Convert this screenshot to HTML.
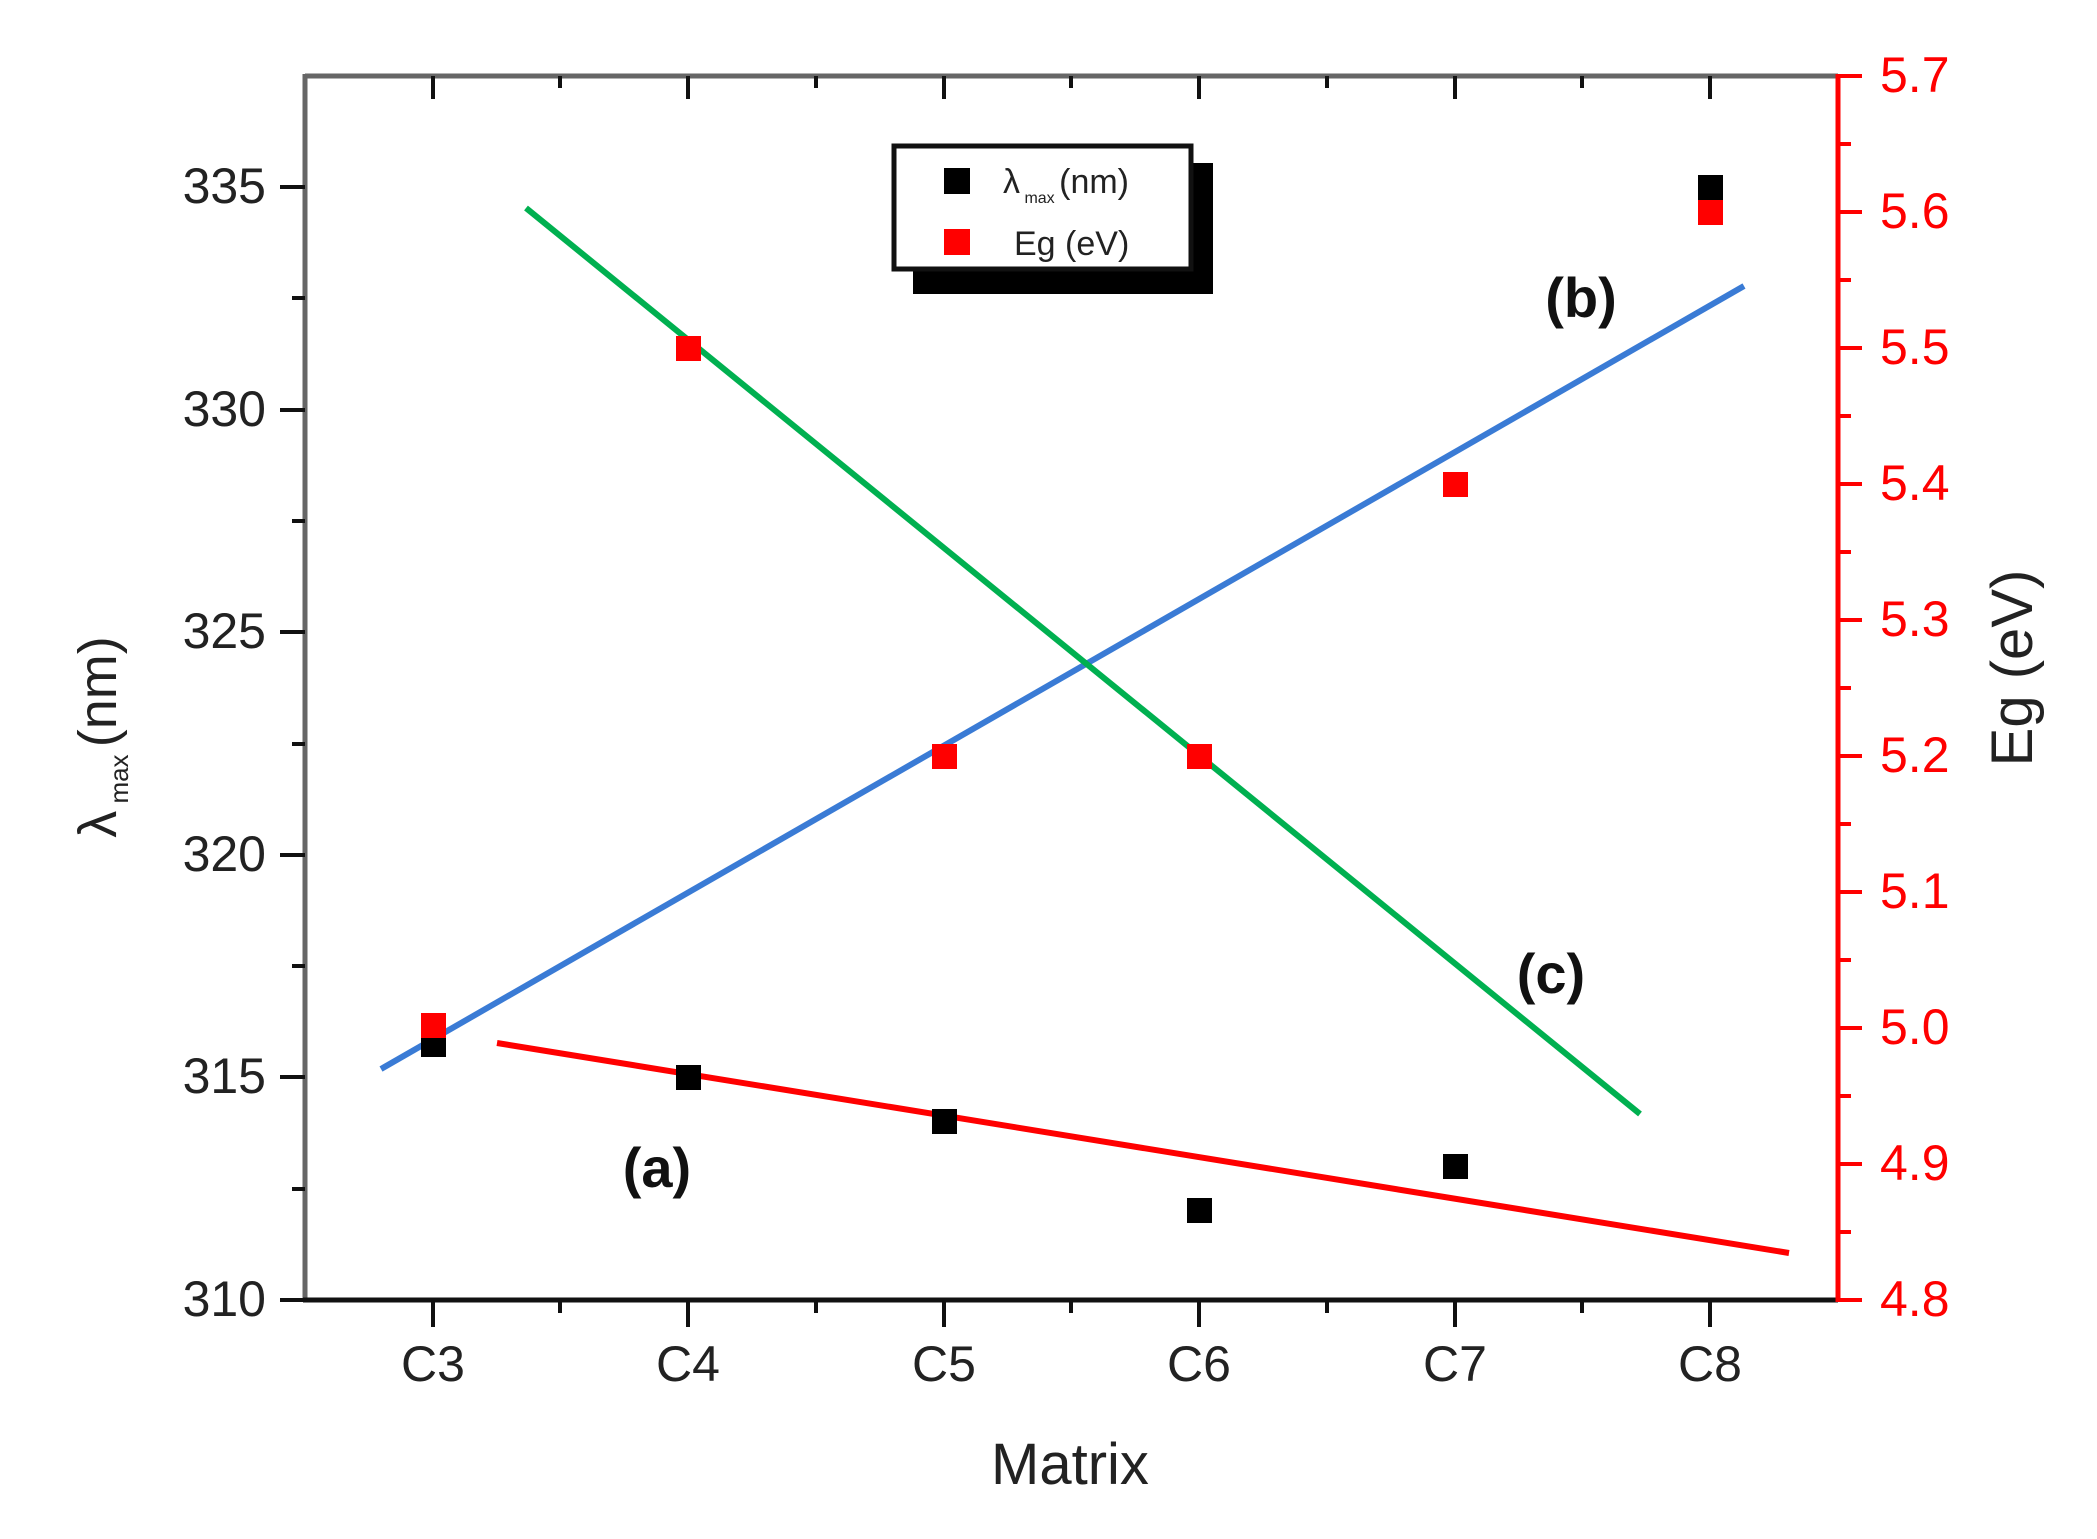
<!DOCTYPE html>
<html><head><meta charset="utf-8"><style>
html,body{margin:0;padding:0;background:#fff;}
svg{display:block;}
text{font-family:"Liberation Sans",sans-serif;}
</style></head><body>
<svg width="2097" height="1539" viewBox="0 0 2097 1539" xmlns="http://www.w3.org/2000/svg">
<!-- axes -->
<line x1="305" y1="76" x2="1838" y2="76" stroke="#666" stroke-width="5"/>
<line x1="305" y1="74" x2="305" y2="1302" stroke="#666" stroke-width="5"/>
<line x1="303" y1="1300" x2="1838" y2="1300" stroke="#111" stroke-width="5"/>
<line x1="1838" y1="74" x2="1838" y2="1302" stroke="#f00" stroke-width="5"/>
<g stroke="#111" stroke-width="4">
<line x1="433" y1="1300" x2="433" y2="1327"/><line x1="688" y1="1300" x2="688" y2="1327"/><line x1="944" y1="1300" x2="944" y2="1327"/><line x1="1199" y1="1300" x2="1199" y2="1327"/><line x1="1455" y1="1300" x2="1455" y2="1327"/><line x1="1710" y1="1300" x2="1710" y2="1327"/>
<line x1="560" y1="1300" x2="560" y2="1313"/><line x1="816" y1="1300" x2="816" y2="1313"/><line x1="1071" y1="1300" x2="1071" y2="1313"/><line x1="1327" y1="1300" x2="1327" y2="1313"/><line x1="1582" y1="1300" x2="1582" y2="1313"/>
<line x1="433" y1="76" x2="433" y2="99"/><line x1="688" y1="76" x2="688" y2="99"/><line x1="944" y1="76" x2="944" y2="99"/><line x1="1199" y1="76" x2="1199" y2="99"/><line x1="1455" y1="76" x2="1455" y2="99"/><line x1="1710" y1="76" x2="1710" y2="99"/>
<line x1="560" y1="76" x2="560" y2="88"/><line x1="816" y1="76" x2="816" y2="88"/><line x1="1071" y1="76" x2="1071" y2="88"/><line x1="1327" y1="76" x2="1327" y2="88"/><line x1="1582" y1="76" x2="1582" y2="88"/>
<line x1="280" y1="1300" x2="305" y2="1300"/><line x1="280" y1="1077" x2="305" y2="1077"/><line x1="280" y1="855" x2="305" y2="855"/><line x1="280" y1="632" x2="305" y2="632"/><line x1="280" y1="410" x2="305" y2="410"/><line x1="280" y1="187" x2="305" y2="187"/>
<line x1="292" y1="1189" x2="305" y2="1189"/><line x1="292" y1="966" x2="305" y2="966"/><line x1="292" y1="744" x2="305" y2="744"/><line x1="292" y1="521" x2="305" y2="521"/><line x1="292" y1="298" x2="305" y2="298"/>
</g>
<g stroke="#f00" stroke-width="4">
<line x1="1838" y1="76" x2="1862" y2="76"/><line x1="1838" y1="212" x2="1862" y2="212"/><line x1="1838" y1="348" x2="1862" y2="348"/><line x1="1838" y1="484" x2="1862" y2="484"/><line x1="1838" y1="620" x2="1862" y2="620"/><line x1="1838" y1="756" x2="1862" y2="756"/><line x1="1838" y1="892" x2="1862" y2="892"/><line x1="1838" y1="1028" x2="1862" y2="1028"/><line x1="1838" y1="1164" x2="1862" y2="1164"/><line x1="1838" y1="1300" x2="1862" y2="1300"/>
<line x1="1838" y1="144" x2="1851" y2="144"/><line x1="1838" y1="280" x2="1851" y2="280"/><line x1="1838" y1="416" x2="1851" y2="416"/><line x1="1838" y1="552" x2="1851" y2="552"/><line x1="1838" y1="688" x2="1851" y2="688"/><line x1="1838" y1="824" x2="1851" y2="824"/><line x1="1838" y1="960" x2="1851" y2="960"/><line x1="1838" y1="1096" x2="1851" y2="1096"/><line x1="1838" y1="1232" x2="1851" y2="1232"/>
</g>
<g font-size="50" fill="#222" text-anchor="end">
<text x="266" y="1316">310</text><text x="266" y="1093">315</text><text x="266" y="871">320</text><text x="266" y="648">325</text><text x="266" y="426">330</text><text x="266" y="203">335</text>
</g>
<g font-size="50" fill="#f00">
<text x="1880" y="92">5.7</text><text x="1880" y="228">5.6</text><text x="1880" y="364">5.5</text><text x="1880" y="500">5.4</text><text x="1880" y="636">5.3</text><text x="1880" y="772">5.2</text><text x="1880" y="908">5.1</text><text x="1880" y="1044">5.0</text><text x="1880" y="1180">4.9</text><text x="1880" y="1316">4.8</text>
</g>
<g font-size="50" fill="#222" text-anchor="middle">
<text x="433" y="1381">C3</text><text x="688" y="1381">C4</text><text x="944" y="1381">C5</text><text x="1199" y="1381">C6</text><text x="1455" y="1381">C7</text><text x="1710" y="1381">C8</text>
</g>
<text x="1070" y="1484" font-size="58" fill="#222" text-anchor="middle">Matrix</text>
<text transform="translate(116,737) rotate(-90)" font-size="54" fill="#222" text-anchor="middle">λ<tspan font-size="26" dy="12"> max </tspan><tspan dy="-12">(nm)</tspan></text>
<text transform="translate(2032,668) rotate(-90)" font-size="58" fill="#222" text-anchor="middle">Eg (eV)</text>
<line x1="497" y1="1043" x2="1789" y2="1253" stroke="#f00" stroke-width="6"/>
<line x1="381" y1="1069" x2="1744" y2="286" stroke="#3a7bd5" stroke-width="6"/>
<line x1="526" y1="208" x2="1640" y2="1114" stroke="#00b050" stroke-width="6"/>
<g fill="#000">
<rect x="421" y="1032" width="25" height="25"/><rect x="676" y="1065" width="25" height="25"/><rect x="932" y="1109" width="25" height="25"/><rect x="1187" y="1198" width="25" height="25"/><rect x="1443" y="1154" width="25" height="25"/><rect x="1698" y="175" width="25" height="25"/>
</g>
<g fill="#f00">
<rect x="421" y="1013" width="25" height="25"/><rect x="676" y="336" width="25" height="25"/><rect x="932" y="744" width="25" height="25"/><rect x="1187" y="744" width="25" height="25"/><rect x="1443" y="472" width="25" height="25"/><rect x="1698" y="200" width="25" height="25"/>
</g>
<g font-size="56" font-weight="bold" fill="#111" text-anchor="middle">
<text x="1581" y="317">(b)</text><text x="1551" y="993">(c)</text><text x="657" y="1187">(a)</text>
</g>
<rect x="913" y="163" width="300" height="131" fill="#000"/>
<rect x="894" y="146" width="297" height="123" fill="#fff" stroke="#111" stroke-width="5"/>
<rect x="944" y="168" width="26" height="26" fill="#000"/>
<rect x="944" y="229" width="26" height="26" fill="#f00"/>
<text x="1003" y="193" font-size="34" fill="#222">λ<tspan font-size="16" dy="10"> max </tspan><tspan dy="-10">(nm)</tspan></text>
<text x="1014" y="255" font-size="34" fill="#222">Eg (eV)</text>
</svg>
</body></html>
